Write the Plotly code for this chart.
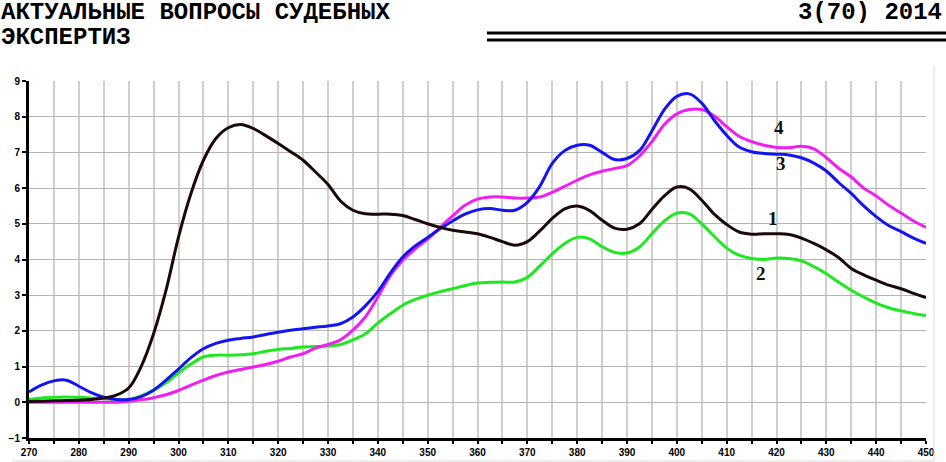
import plotly.graph_objects as go

# wavelength, nm
wl = [270 + 2.5 * i for i in range(73)]

curve1 = [0.02, 0.03, 0.04, 0.05, 0.06, 0.08, 0.12, 0.2, 0.4, 1.0, 1.92, 3.14, 4.63, 5.85, 6.78, 7.39,
          7.69, 7.78, 7.67, 7.47, 7.25, 7.02, 6.78, 6.45, 6.1, 5.64, 5.38, 5.28, 5.27, 5.27, 5.23, 5.12,
          5.0, 4.9, 4.82, 4.77, 4.72, 4.62, 4.5, 4.4, 4.5, 4.8, 5.15, 5.42, 5.5, 5.37, 5.1, 4.88,
          4.85, 5.0, 5.4, 5.78, 6.03, 5.98, 5.66, 5.27, 4.98, 4.77, 4.71, 4.72, 4.72, 4.7, 4.6, 4.45,
          4.27, 4.05, 3.75, 3.57, 3.42, 3.28, 3.18, 3.05, 2.93]
curve2 = [0.08, 0.12, 0.14, 0.15, 0.14, 0.12, 0.1, 0.08, 0.07, 0.18, 0.34, 0.55, 0.82, 1.07, 1.27, 1.32,
          1.32, 1.33, 1.36, 1.43, 1.48, 1.51, 1.55, 1.56, 1.58, 1.62, 1.75, 1.92, 2.22, 2.48, 2.72, 2.88,
          3.0, 3.1, 3.18, 3.27, 3.34, 3.36, 3.37, 3.37, 3.5, 3.82, 4.16, 4.45, 4.62, 4.58, 4.36, 4.2,
          4.18, 4.35, 4.72, 5.08, 5.3, 5.28, 5.0, 4.65, 4.32, 4.12, 4.03, 4.0, 4.04, 4.03, 3.96, 3.8,
          3.6, 3.36, 3.14, 2.95, 2.78, 2.65, 2.56, 2.49, 2.43]
curve3 = [0.29, 0.48, 0.6, 0.62, 0.45, 0.27, 0.14, 0.08, 0.08, 0.16, 0.34, 0.62, 0.93, 1.25, 1.5, 1.65,
          1.74, 1.79, 1.83, 1.9, 1.96, 2.02, 2.06, 2.1, 2.14, 2.2, 2.39, 2.7, 3.1, 3.62, 4.07, 4.38,
          4.62, 4.86, 5.08, 5.27, 5.39, 5.43, 5.38, 5.38, 5.6, 6.05, 6.69, 7.05, 7.2, 7.2, 7.0, 6.8,
          6.83, 7.05, 7.6, 8.2, 8.57, 8.64, 8.38, 7.9, 7.48, 7.15, 7.02, 6.97, 6.95, 6.93, 6.85, 6.7,
          6.48, 6.15, 5.85, 5.5, 5.2, 4.95, 4.78, 4.6, 4.45]
curve4 = [0.0, 0.0, 0.0, 0.0, 0.0, 0.0, 0.0, 0.0, 0.03, 0.07, 0.13, 0.21, 0.33, 0.48, 0.62, 0.75,
          0.85, 0.92, 0.99, 1.06, 1.15, 1.27, 1.36, 1.52, 1.62, 1.75, 2.02, 2.39, 2.95, 3.55, 3.98, 4.3,
          4.57, 4.9, 5.22, 5.52, 5.69, 5.75, 5.75, 5.72, 5.72, 5.75, 5.88, 6.05, 6.22, 6.37, 6.47, 6.55,
          6.63, 6.9, 7.3, 7.78, 8.08, 8.2, 8.2, 8.02, 7.72, 7.45, 7.3, 7.2, 7.14, 7.13, 7.17, 7.1,
          6.85, 6.55, 6.31, 6.0, 5.78, 5.52, 5.3, 5.08, 4.9]

labels = ['1', '2', '3', '4']
label_x = [419.3, 416.8, 421, 420.5]
label_y = [5.15, 3.6, 6.7, 7.7]

W, H = 946, 462
L, R, T, B = 29, 20, 81, 24


def px(x):
    return (x - L) / (W - L - R)


def py(y):
    return (H - B - y) / (H - T - B)


fig = go.Figure()
fig.add_trace(go.Scatter(x=wl, y=curve2, mode='lines', line=dict(color='#1ee81e', width=3, shape='spline')))
fig.add_trace(go.Scatter(x=wl, y=curve4, mode='lines', line=dict(color='#f01ef0', width=3, shape='spline')))
fig.add_trace(go.Scatter(x=wl, y=curve3, mode='lines', line=dict(color='#1414f0', width=3, shape='spline')))
fig.add_trace(go.Scatter(x=wl, y=curve1, mode='lines', line=dict(color='#1c0808', width=3, shape='spline')))

for t, x, y in zip(labels, label_x, label_y):
    fig.add_annotation(x=x, y=y, text='<b>' + t + '</b>', showarrow=False,
                       font=dict(family='Liberation Serif', size=19, color='#111'))

# header
hfont = dict(family='Liberation Mono', size=24, color='black')
fig.add_annotation(xref='paper', yref='paper', x=px(-1), y=py(12), text='<b>АКТУАЛЬНЫЕ ВОПРОСЫ СУДЕБНЫХ</b>',
                   showarrow=False, xanchor='left', yanchor='middle', font=hfont, height=22)
fig.add_annotation(xref='paper', yref='paper', x=px(-1), y=py(37), text='<b>ЭКСПЕРТИЗ</b>',
                   showarrow=False, xanchor='left', yanchor='middle', font=hfont, height=22)
fig.add_annotation(xref='paper', yref='paper', x=px(944), y=py(12), text='<b>3(70) 2014</b>',
                   showarrow=False, xanchor='right', yanchor='middle', font=hfont, height=22)
for yy in (33, 40):
    fig.add_shape(type='line', xref='paper', yref='paper', x0=px(487), x1=px(946), y0=py(yy), y1=py(yy),
                  line=dict(color='black', width=3))

# white patch beside label 1 and faint frame
fig.add_shape(type='rect', xref='paper', yref='paper', x0=px(790), x1=px(838), y0=py(228), y1=py(207),
              fillcolor='white', line=dict(width=0), layer='between')
fig.add_shape(type='line', xref='paper', yref='paper', x0=px(934), x1=px(934), y0=py(66), y1=py(461),
              line=dict(color='#d8d8d8', width=1))
fig.add_shape(type='line', xref='paper', yref='paper', x0=px(12), x1=px(934), y0=py(461), y1=py(461),
              line=dict(color='#dcdcdc', width=1))

tickfont = dict(family='Liberation Sans', size=10, color='black')
fig.update_layout(
    width=W, height=H,
    margin=dict(l=L, r=R, t=T, b=B),
    paper_bgcolor='white', plot_bgcolor='white',
    showlegend=False,
    xaxis=dict(range=[270, 450], dtick=10, tick0=270, showgrid=True, gridcolor='#cfcfcf', gridwidth=2,
               ticks='outside', ticklen=3, tickwidth=2, tickcolor='black', tickfont=tickfont,
               showline=True, linecolor='black', linewidth=3, zeroline=False, automargin=False,
               tickprefix='<b>', ticksuffix='</b>',
               minor=dict(dtick=5, showgrid=True, gridcolor='#cfcfcf', gridwidth=2, ticks='outside',
                          ticklen=3, tickwidth=2, tickcolor='black')),
    yaxis=dict(range=[-1, 9], dtick=1, showgrid=True, gridcolor='#b4b4b4', gridwidth=1,
               ticks='outside', ticklen=4, tickwidth=2, tickcolor='black', tickfont=tickfont,
               showline=True, linecolor='black', linewidth=3, zeroline=False, automargin=False,
               tickprefix='<b>', ticksuffix='</b>'),
)

# drop the default page margin so the figure sits at the window's top-left corner
fig.write_html("out.html", config={'displayModeBar': False},
               post_script="document.body.style.margin='0';")
